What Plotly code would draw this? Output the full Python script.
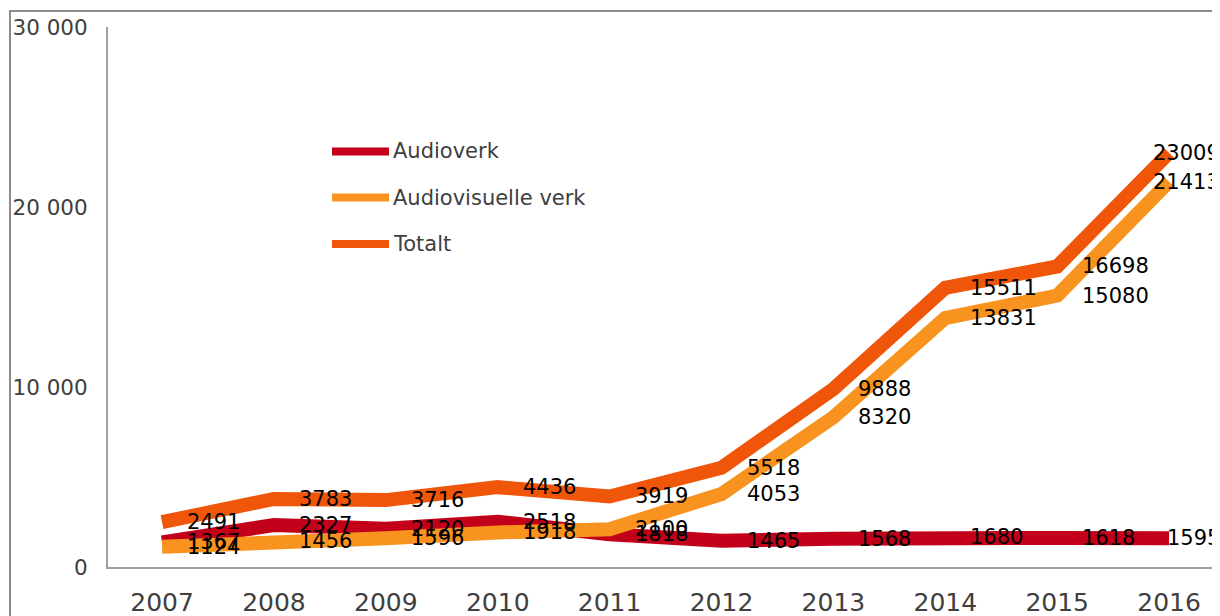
import plotly.graph_objects as go

years = ["2007", "2008", "2009", "2010", "2011", "2012", "2013", "2014", "2015", "2016"]
audioverk = [1367, 2327, 2120, 2518, 1818, 1465, 1568, 1680, 1618, 1595]
audiovisuelle = [1124, 1456, 1596, 1918, 2100, 4053, 8320, 13831, 15080, 21413]
totalt = [2491, 3783, 3716, 4436, 3919, 5518, 9888, 15511, 16698, 23009]

series = [
    ("Audioverk", audioverk, "#C2001A"),
    ("Audiovisuelle verk", audiovisuelle, "#F7931E"),
    ("Totalt", totalt, "#F0560A"),
]

FONT = "DejaVu Sans"
OFF = 8  # default page body margin
W, H = 1220 - OFF, 616 - OFF
L, R, T, B = 108 - OFF, 0, 27 - OFF, 616 - 567
pw = W - L - R
ph = H - T - B


def px_x(x):
    return (x - OFF - L) / pw


def px_y(y):
    return (H - B - (y - OFF)) / ph


fig = go.Figure()
for name, vals, color in series:
    fig.add_trace(go.Scatter(
        x=years, y=vals, mode="lines", name=name,
        line=dict(color=color, width=14), showlegend=False,
        cliponaxis=False,
    ))

annotations = []
for name, vals, color in series:
    n = len(vals)
    for i, v in enumerate(vals):
        last = i == n - 1
        annotations.append(dict(
            x=i, y=v, xref="x", yref="y", text=str(v), showarrow=False,
            xanchor="right" if last else "left", yanchor="middle",
            xshift=53 if last else 23,
            font=dict(family=FONT, size=21, color="#000000"),
        ))

# manual legend
shapes = []
legend_rows = [151.5, 197.5, 244]
for (name, vals, color), ypx in zip(series, legend_rows):
    yp = px_y(ypx)
    shapes.append(dict(type="line", xref="paper", yref="paper",
                       x0=px_x(332), x1=px_x(389), y0=yp, y1=yp,
                       line=dict(color=color, width=8)))
    annotations.append(dict(x=px_x(391), y=yp, xref="paper", yref="paper",
                            text=name, showarrow=False, xanchor="left", yanchor="middle",
                            font=dict(family=FONT, size=21, color="#404040")))

# outer chart border
shapes.append(dict(type="rect", xref="paper", yref="paper",
                   x0=px_x(10), x1=1.05, y0=px_y(640), y1=px_y(11),
                   line=dict(color="#8c8c8c", width=2), layer="below"))

fig.update_layout(
    width=W, height=H,
    margin=dict(l=L, r=R, t=T, b=B, autoexpand=False),
    paper_bgcolor="white", plot_bgcolor="white",
    separators=". ",
    showlegend=False,
    shapes=shapes,
    annotations=annotations,
    font=dict(family=FONT, color="#404040"),
)
fig.update_xaxes(
    type="category", range=[-0.483, 9.455], automargin=False,
    showline=True, linecolor="#a0a0a0", linewidth=2,
    showgrid=False, zeroline=False, ticks="",
    tickfont=dict(family=FONT, size=25, color="#404040"),
    ticklabelstandoff=12,
)
fig.update_yaxes(
    range=[0, 30000], tickvals=[0, 10000, 20000, 30000], tickformat=",d",
    automargin=False,
    showline=True, linecolor="#a0a0a0", linewidth=2,
    showgrid=False, zeroline=False, ticks="",
    tickfont=dict(family=FONT, size=21.5, color="#404040"),
    ticklabelstandoff=14,
)

fig.write_html("out.html")
